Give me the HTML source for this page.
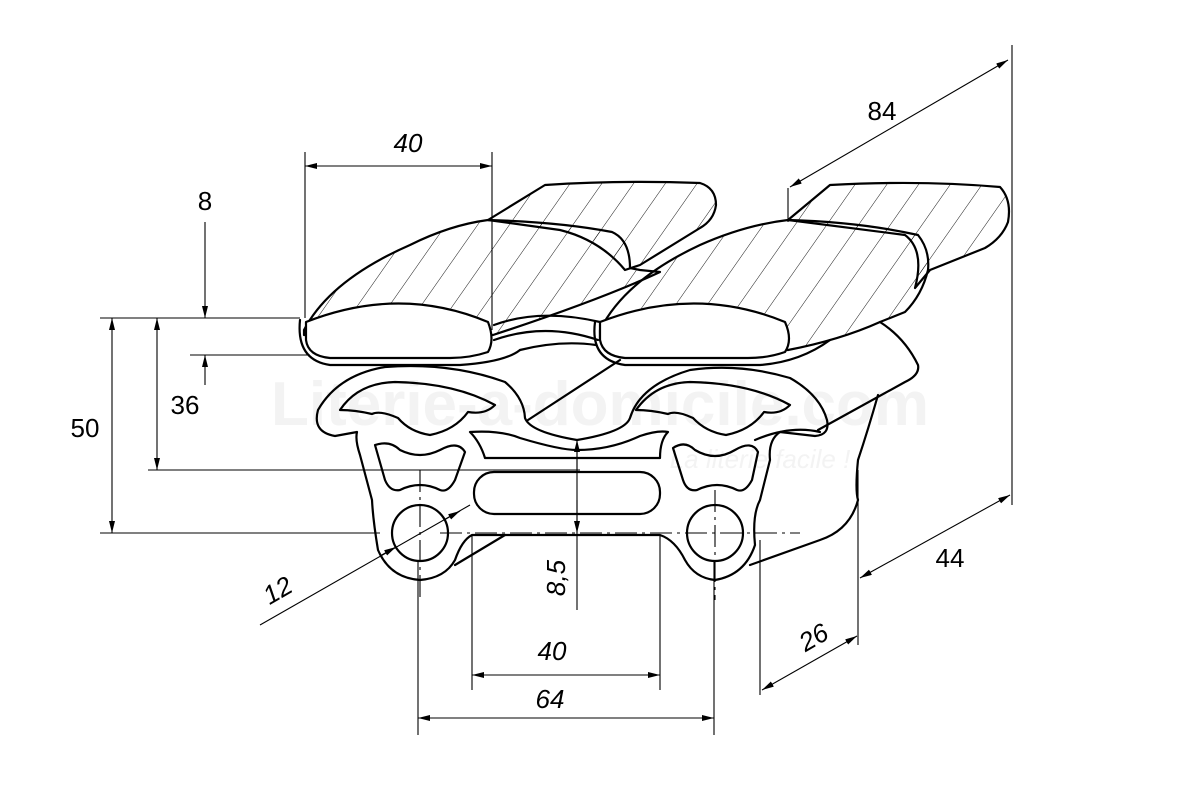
<!DOCTYPE html>
<html><head><meta charset="utf-8"><style>
html,body{margin:0;padding:0;background:#fff;}
svg{display:block;}
text{font-family:"Liberation Sans",sans-serif;fill:#000;}
</style></head><body>
<svg width="1200" height="800" viewBox="0 0 1200 800" xmlns="http://www.w3.org/2000/svg">
<defs>
<pattern id="h" patternUnits="userSpaceOnUse" width="26" height="26" patternTransform="rotate(35)">
<line x1="0" y1="0" x2="0" y2="26" stroke="#000" stroke-width="0.9"/>
</pattern>
<marker id="a" viewBox="0 0 12 6" refX="12" refY="3" markerWidth="12" markerHeight="6" orient="auto-start-reverse" markerUnits="userSpaceOnUse">
<path d="M0,0 L12,3 L0,6 z" fill="#000"/>
</marker>
</defs>

<!-- watermark -->
<text x="600" y="425" font-size="62" font-weight="bold" style="fill:#f3f3f3" text-anchor="middle">Literie-a-domicile.com</text>
<text x="760" y="468" font-size="26" font-style="italic" style="fill:#f3f3f3" text-anchor="middle">La literie facile !</text>

<g fill="none" stroke="#000" stroke-width="2.2" stroke-linejoin="round" stroke-linecap="round">
<path d="M488,220 L545,185 Q620,180 700,183 Q716,188 716,205 Q714,220 700,228 L640,265 L625,270 Q600,240 560,230 Z" fill="url(#h)"/>
<path d="M788,220 L830,185 Q920,180 1000,187 Q1012,200 1008,222 Q1002,238 985,248 L930,270 L915,288 Q925,250 905,235 Z" fill="url(#h)"/>
<path d="M304,330 Q330,280 410,245 Q450,225 488,220 Q560,222 612,232 Q630,240 630,268 L640,270 L660,272 Q600,300 493,335 L304,335 Z" fill="url(#h)"/>
<path d="M600,330 Q625,280 700,245 Q745,225 788,220 Q860,222 918,235 Q930,250 928,270 Q922,295 905,312 L880,322 Q840,340 788,350 L600,340 Z" fill="url(#h)"/>
<path d="M306,322 Q400,285 488,322 Q495,340 488,352 Q470,358 450,358 L330,358 Q308,356 306,340 Z" fill="#fff"/>
<path d="M300,320 Q296,360 330,365 L460,365 Q505,362 520,350" />
<path d="M600,322 Q695,285 785,322 Q793,340 785,352 Q768,358 748,358 L625,358 Q603,356 600,340 Z" fill="#fff"/>
<path d="M595,322 Q590,360 625,365 L760,365 Q800,362 830,340" />
<path d="M494,325 Q540,308 600,322 M494,340 Q545,322 598,340" />
<path d="M520,350 Q560,340 596,345"/>
<path d="M880,322 Q905,338 918,365 Q920,375 905,382 L818,430"/>
<path d="M878,395 Q868,430 858,460 Q855,490 858,500 Q850,530 820,540 L750,565"/>
<path d="M755,440 Q790,425 820,432"/>
<path d="M528,420 L620,360"/>
<path d="M455,565 L505,535"/>

<path d="M357,432 L335,436 Q312,432 318,410 Q338,375 385,367 Q450,362 505,382 Q524,398 525,418 Q530,432 577,440 Q625,432 630,418 Q640,385 690,370 Q740,363 790,378 Q820,395 827,420 Q830,435 815,436 L780,432 Q768,440 770,460 L760,500 Q752,515 755,545 Q745,575 715,580 Q695,578 685,560 Q675,540 660,535 L472,535 Q462,540 455,560 Q445,578 420,580 Q390,578 378,550 Q373,520 372,500 L360,455 Q355,440 357,432 Z"/>
<path d="M340,410 Q358,383 395,382 Q455,383 495,405 Q485,415 468,412 Q455,430 430,435 Q410,432 398,418 Q380,410 372,414 Q355,410 340,410 Z"/>
<path d="M636,410 Q655,383 690,382 Q750,383 790,405 Q780,415 764,412 Q751,430 726,435 Q706,432 693,418 Q676,410 668,414 Q651,410 636,410 Z"/>
<path d="M470,432 Q500,430 520,438 Q560,450 577,450 Q610,450 640,436 Q658,430 668,432 Q660,440 660,458 L485,458 Q480,442 470,432 Z"/>
<path d="M375,445 Q390,440 400,450 Q420,460 440,450 Q458,440 465,452 L455,480 Q448,493 440,490 Q420,480 400,490 Q390,492 385,480 Z"/>
<path d="M673,448 Q685,440 695,450 Q715,462 735,450 Q752,440 758,452 L752,480 Q745,493 737,490 Q717,480 697,490 Q687,492 683,480 Z"/>
<rect x="474" y="472" width="186" height="42" rx="20"/>
<circle cx="420" cy="533" r="28"/>
<circle cx="715" cy="533" r="28"/>
</g>

<g fill="none" stroke="#000" stroke-width="1.1">
<line x1="305" y1="152" x2="305" y2="318"/>
<line x1="492" y1="152" x2="492" y2="330"/>
<line x1="305" y1="166" x2="492" y2="166" marker-start="url(#a)" marker-end="url(#a)"/>
<line x1="1012" y1="45" x2="1012" y2="505"/>
<line x1="788" y1="188" x2="788" y2="222"/>
<line x1="790" y1="187" x2="1008" y2="60" marker-start="url(#a)" marker-end="url(#a)"/>
<line x1="100" y1="318" x2="300" y2="318"/>
<line x1="190" y1="355" x2="310" y2="355"/>
<line x1="205" y1="222" x2="205" y2="318" marker-end="url(#a)"/>
<line x1="205" y1="385" x2="205" y2="355" marker-end="url(#a)"/>
<line x1="112" y1="318" x2="112" y2="533" marker-start="url(#a)" marker-end="url(#a)"/>
<line x1="100" y1="533" x2="380" y2="533"/>
<line x1="157" y1="318" x2="157" y2="470" marker-start="url(#a)" marker-end="url(#a)"/>
<line x1="148" y1="470" x2="580" y2="470"/>
<line x1="440" y1="533" x2="800" y2="533" stroke-dasharray="22,5,3,5"/>
<line x1="420" y1="470" x2="420" y2="600" stroke-dasharray="22,5,3,5"/>
<line x1="715" y1="490" x2="715" y2="600" stroke-dasharray="22,5,3,5"/>
<line x1="577" y1="440" x2="577" y2="610"/>
<line x1="577" y1="440" x2="577" y2="470" marker-start="url(#a)"/>
<line x1="577" y1="500" x2="577" y2="533" marker-end="url(#a)"/>
<line x1="260" y1="625" x2="470" y2="505"/>
<line x1="460" y1="511" x2="444" y2="520" marker-start="url(#a)"/>
<line x1="380" y1="556" x2="396" y2="547" marker-end="url(#a)"/>
<line x1="472" y1="535" x2="472" y2="690"/>
<line x1="660" y1="535" x2="660" y2="690"/>
<line x1="472" y1="675" x2="660" y2="675" marker-start="url(#a)" marker-end="url(#a)"/>
<line x1="418" y1="560" x2="418" y2="735"/>
<line x1="714" y1="560" x2="714" y2="735"/>
<line x1="418" y1="718" x2="714" y2="718" marker-start="url(#a)" marker-end="url(#a)"/>
<line x1="760" y1="540" x2="760" y2="695"/>
<line x1="858" y1="470" x2="858" y2="645"/>
<line x1="762" y1="690" x2="857" y2="636" marker-start="url(#a)" marker-end="url(#a)"/>
<line x1="860" y1="578" x2="1010" y2="495" marker-start="url(#a)" marker-end="url(#a)"/>
</g>

<g font-size="26">
<text x="408" y="152" text-anchor="middle" font-style="italic">40</text>
<text x="882" y="120" text-anchor="middle">84</text>
<text x="205" y="210" text-anchor="middle">8</text>
<text x="85" y="437" text-anchor="middle">50</text>
<text x="185" y="414" text-anchor="middle">36</text>
<text x="950" y="567" text-anchor="middle">44</text>
<text x="552" y="660" text-anchor="middle" font-style="italic">40</text>
<text x="550" y="708" text-anchor="middle" font-style="italic">64</text>
<text transform="translate(565,578) rotate(-90)" text-anchor="middle" font-style="italic">8,5</text>
<text transform="translate(282,598) rotate(-30)" text-anchor="middle" font-style="italic">12</text>
<text transform="translate(818,645) rotate(-30)" text-anchor="middle" font-style="italic">26</text>
</g>
</svg>
</body></html>
